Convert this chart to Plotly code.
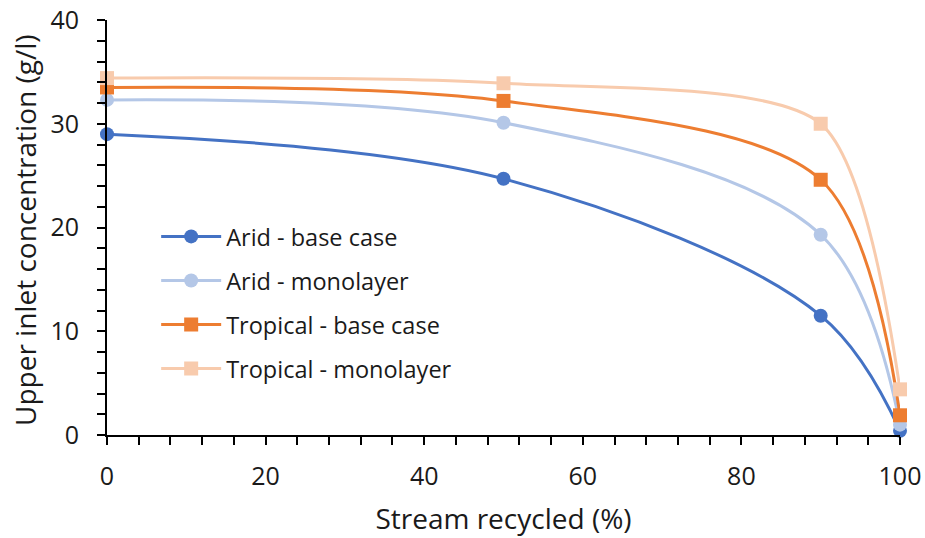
import plotly.graph_objects as go

x_vals = [0, 50, 90, 100]
arid_base = [29.0, 24.7, 11.5, 0.4]
arid_mono = [32.3, 30.1, 19.3, 1.0]
trop_base = [33.5, 32.2, 24.6, 1.9]
trop_mono = [34.4, 33.9, 30.0, 4.4]
names = ["Arid - base case", "Arid - monolayer", "Tropical - base case", "Tropical - monolayer"]
colors = ["#4472C4", "#B4C7E7", "#ED7D31", "#F8CBAD"]
symbols = ["circle", "circle", "square", "square"]
smooth = [1.0, 1.0, 0.9, 0.75]

fig = go.Figure()
for i, (ys, nm, c, s, sm) in enumerate(zip([arid_base, arid_mono, trop_base, trop_mono], names, colors, symbols, smooth)):
    fig.add_trace(go.Scatter(
        x=x_vals, y=ys, name=nm, mode="lines+markers",
        line=dict(color=c, width=3, shape="spline", smoothing=sm),
        marker=dict(color=c, symbol=s, size=14),
        cliponaxis=False, legendgroup=str(i),
    ))

font = "Open Sans, sans-serif"
txt = "#1a1a1a"
axis_common = dict(
    showline=True, linecolor="black", linewidth=2, showgrid=False, zeroline=False,
    ticks="outside", ticklen=8, tickwidth=2, tickcolor="black", automargin=False,
    ticklabeloverflow="allow",
    tickfont=dict(size=25, color=txt, family=font),
)
fig.update_layout(
    width=925, height=538,
    margin=dict(l=107, r=25, t=20, b=103),
    paper_bgcolor="white", plot_bgcolor="white",
    font=dict(family=font, color=txt),
    showlegend=True,
    legend=dict(x=0.062, y=0.531, xanchor="left", yanchor="top",
                font=dict(size=23.5, family=font, color=txt),
                bgcolor="rgba(0,0,0,0)", tracegroupgap=10.5, itemwidth=60),
    xaxis=dict(range=[0, 100], dtick=20, ticklabelstandoff=10,
               minor=dict(dtick=4, ticks="outside", ticklen=8, tickwidth=2, tickcolor="black"),
               title=dict(text="Stream recycled (%)", font=dict(size=28, family=font, color=txt), standoff=18),
               **axis_common),
    yaxis=dict(range=[0, 40], dtick=10, ticklabelstandoff=13,
               minor=dict(dtick=2, ticks="outside", ticklen=8, tickwidth=2, tickcolor="black"),
               **axis_common),
    annotations=[dict(text="Upper inlet concentration (g/l)", textangle=-90,
                      xref="paper", yref="paper", x=-0.1034, y=0.494,
                      xanchor="center", yanchor="middle", showarrow=False,
                      font=dict(size=28, family=font, color=txt))],
)
fig.write_html("out.html", config={"displayModeBar": False},
               post_script="document.body.style.margin='0';")
